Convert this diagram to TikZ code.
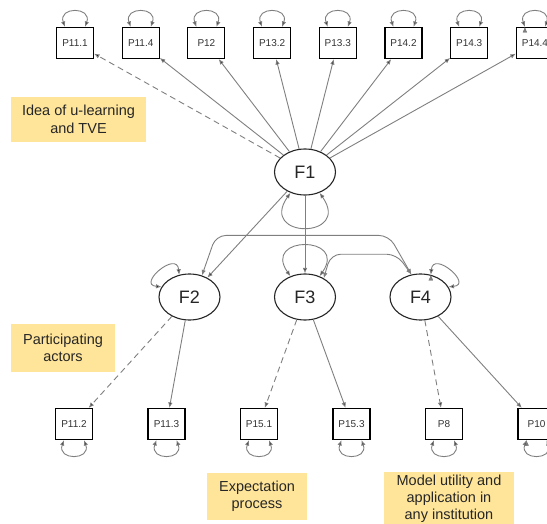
\documentclass[tikz,border=0pt]{standalone}
\usepackage{fontspec}
\setmainfont{Liberation Sans}
\usepackage{xcolor}
\usepackage{tikz}
\usetikzlibrary{arrows.meta}
\usetikzlibrary{shapes.geometric}

\definecolor{notefill}{HTML}{FFE599}
\definecolor{pathgray}{HTML}{7F7F7F}

\begin{document}
\begin{tikzpicture}[x=1pt, y=1pt, node distance=65.7pt,
	>={Latex[width=4.5pt,length=5.5pt]},
    latent/.style = {ellipse, draw=black!85, line width=1.1pt,
                     minimum width=61pt, minimum height=46pt, inner sep=0pt,
                     font=\fontsize{18}{20}\selectfont, text=black!85, fill=white},
    observed/.style = {rectangle, draw=black, line width=1.1pt,
                       minimum width=37pt, minimum height=31pt, inner sep=1pt,
                       font=\fontsize{10}{12}\selectfont, text=black!80, fill=white},
    note/.style = {rectangle, fill=notefill, align=center, inner sep=2pt,
                   font=\fontsize{14.5}{17.5}\selectfont, text=black!85},
    load/.style = {->, draw=pathgray, line width=0.9pt},
    fixed/.style = {dash pattern=on 6pt off 4pt},
    cov/.style = {<->, draw=pathgray, line width=0.9pt, rounded corners=10pt},
    toploop/.style = {<->, draw=pathgray, line width=0.9pt,
                      out=110, in=70, looseness=2.8},
    botloop/.style = {<->, draw=pathgray, line width=0.9pt,
                      out=250, in=290, looseness=2.8}]
  \useasboundingbox (0,0) rectangle (547,523);

  % notes
  \node (idea) [note, minimum width=135pt, minimum height=45pt] at (78.5,403.5)
    {Idea of u-learning\\and TVE};
  \node (actors) [note, minimum width=104pt, minimum height=48pt] at (63,175)
    {Participating\\actors};
  \node (expect) [note, minimum width=100pt, minimum height=47pt] at (257,26.5)
    {Expectation\\process};
  \node (utility) [note, minimum width=130pt, minimum height=54pt,
    font=\fontsize{14.5}{16.8}\selectfont] at (449,24.5)
    {Model utility and\\application in\\any institution};

  % factors
  \node (f1) [latent] at (305,351) {F1};
  \node (f3) [latent, node distance=125pt, below of=f1] {F3};
  \node (f2) [latent, node distance=115.5pt, left of=f3] {F2};
  \node (f4) [latent, node distance=115.5pt, right of=f3] {F4};

  % items of F1
  \node (p111) [observed] at (75,480) {P11.1};
  \node (p114) [observed, right of=p111] {P11.4};
  \node (p12) [observed, right of=p114] {P12};
  \node (p132) [observed, right of=p12] {P13.2};
  \node (p133) [observed, right of=p132] {P13.3};
  \node (p142) [observed, right of=p133] {P14.2};
  \node (p143) [observed, right of=p142] {P14.3};
  \node (p144) [observed, right of=p143] {P14.4};

  % items of F2, F3, F4
  \begin{scope}[node distance=92.5pt]
  \node (p112) [observed] at (74,99) {P11.2};
  \node (p113) [observed, right of=p112] {P11.3};
  \node (p151) [observed, right of=p113] {P15.1};
  \node (p153) [observed, right of=p151] {P15.3};
  \node (p8) [observed, right of=p153] {P8};
  \node (p10) [observed, right of=p8] {P10};
  \end{scope}

  \path[load]
	(f1) edge[fixed] (p111)
	(f1) edge (p114)
	(f1) edge (p12)
	(f1) edge (p132)
	(f1) edge (p133)
	(f1) edge (p142)
	(f1) edge (p143)
	(f1) edge (p144);

  \path[load]
	(f1) edge (f2)
	(f1) edge (f3)
	(f2) edge[fixed] (p112)
	(f2) edge (p113)
	(f3) edge[fixed] (p151)
	(f3) edge (p153)
	(f4) edge[fixed] (p8)
	(f4) edge (p10);

  \draw[cov] (f2.60) -- ++(14,40) -- ++(173,0) -- (f4.112);
  \draw[cov] (f3.45) -- ++(7,24) -- ++(66,0) -- (f4.112);

  % variances
  \path[<->, draw=pathgray, line width=0.9pt]
	(f1.235) edge[out=235, in=305, looseness=5] (f1.305)
	(f2.115) edge[out=95, in=175, looseness=3] (f2.160)
	(f3.125) edge[out=125, in=55, looseness=4.4] (f3.55)
	(f4.65) edge[out=85, in=5, looseness=3] (f4.20);

  \path[toploop]
	([xshift=-10pt]p111.north) edge ([xshift=10pt]p111.north)
	([xshift=-10pt]p114.north) edge ([xshift=10pt]p114.north)
	([xshift=-10pt]p12.north) edge ([xshift=10pt]p12.north)
	([xshift=-10pt]p132.north) edge ([xshift=10pt]p132.north)
	([xshift=-10pt]p133.north) edge ([xshift=10pt]p133.north)
	([xshift=-10pt]p142.north) edge ([xshift=10pt]p142.north)
	([xshift=-10pt]p143.north) edge ([xshift=10pt]p143.north)
	([xshift=-10pt]p144.north) edge ([xshift=10pt]p144.north);

  \path[botloop]
	([xshift=-10pt]p112.south) edge ([xshift=10pt]p112.south)
	([xshift=-10pt]p113.south) edge ([xshift=10pt]p113.south)
	([xshift=-10pt]p151.south) edge ([xshift=10pt]p151.south)
	([xshift=-10pt]p153.south) edge ([xshift=10pt]p153.south)
	([xshift=-10pt]p8.south) edge ([xshift=10pt]p8.south)
	([xshift=-10pt]p10.south) edge ([xshift=10pt]p10.south);
\end{tikzpicture}
\end{document}
